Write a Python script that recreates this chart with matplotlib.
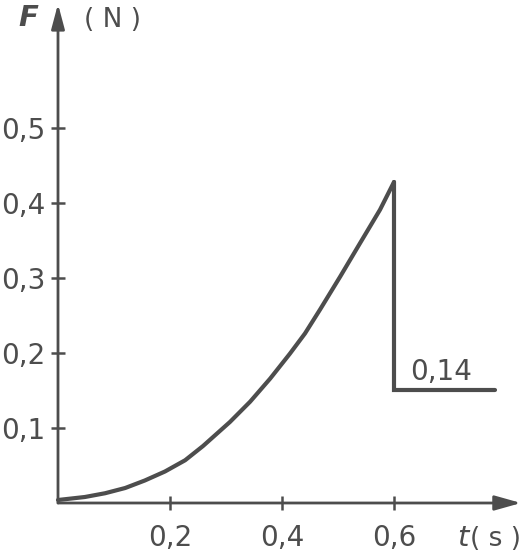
import matplotlib
matplotlib.use("Agg")
import matplotlib.pyplot as plt

# data
t_rise = [0.0, 0.048, 0.084, 0.12, 0.155, 0.191, 0.227, 0.259, 0.307, 0.343, 0.379,
          0.414, 0.441, 0.468, 0.504, 0.539, 0.575, 0.6]
F_rise = [0.004, 0.008, 0.013, 0.02, 0.03, 0.042, 0.057, 0.076, 0.108, 0.135, 0.166,
          0.199, 0.226, 0.258, 0.302, 0.346, 0.391, 0.428]
t_after = [0.6, 0.6, 0.78]
F_after = [0.428, 0.151, 0.151]
x_ticks = [0.2, 0.4, 0.6]
x_labels = ["0,2", "0,4", "0,6"]
y_ticks = [0.1, 0.2, 0.3, 0.4, 0.5]
y_labels = ["0,1", "0,2", "0,3", "0,4", "0,5"]
jump_label = "0,14"

W, H = 523, 558
col = "#4d4d4d"
fig = plt.figure(figsize=(W / 100, H / 100), dpi=100)
x0, y0 = 58, 503
ax = fig.add_axes([x0 / W, (H - y0) / H, (521 - x0) / W, (y0 - 4) / H])
ax.set_xlim(0, (521 - x0) / 560)
ax.set_ylim(0, (y0 - 4) / 750)
for s in ax.spines.values():
    s.set_visible(False)

ax.plot(t_rise, F_rise, color=col, lw=3.0, solid_capstyle="round", solid_joinstyle="round", clip_on=False)
ax.plot(t_after, F_after, color=col, lw=3.0, solid_capstyle="round", solid_joinstyle="miter", clip_on=False)

# axes with arrows
ax.annotate("", xy=(1.0, 0), xytext=(0, 0), xycoords="axes fraction",
            arrowprops=dict(arrowstyle="-|>,head_length=1.6,head_width=0.45", color=col, lw=2, shrinkA=0, shrinkB=0))
ax.annotate("", xy=(0, 1.0), xytext=(0, 0), xycoords="axes fraction",
            arrowprops=dict(arrowstyle="-|>,head_length=1.5,head_width=0.4", color=col, lw=2, shrinkA=0, shrinkB=0))

ax.set_xticks(x_ticks)
ax.set_xticklabels(x_labels)
ax.set_yticks(y_ticks)
ax.set_yticklabels(y_labels)
ax.tick_params(axis="x", direction="inout", length=10, width=1.8, color=col, labelsize=20, labelcolor=col, pad=10)
ax.tick_params(axis="y", direction="inout", length=10, width=1.8, color=col, labelsize=20, labelcolor=col, pad=4)

ax.text(0.629, 0.164, jump_label, fontsize=20, color=col, ha="left", va="baseline")

fig.text(18 / W, 1 - 26 / H, "F", fontsize=21, color=col, style="italic", weight="bold", ha="left", va="baseline")
fig.text(84 / W, 1 - 27 / H, "( N )", fontsize=19, color=col, ha="left", va="baseline")
fig.text(457 / W, 1 - 546 / H, "t", fontsize=21, color=col, style="italic", ha="left", va="baseline")
fig.text(470 / W, 1 - 546 / H, "( s )", fontsize=19, color=col, ha="left", va="baseline")

fig.savefig("out.png", dpi=100)
